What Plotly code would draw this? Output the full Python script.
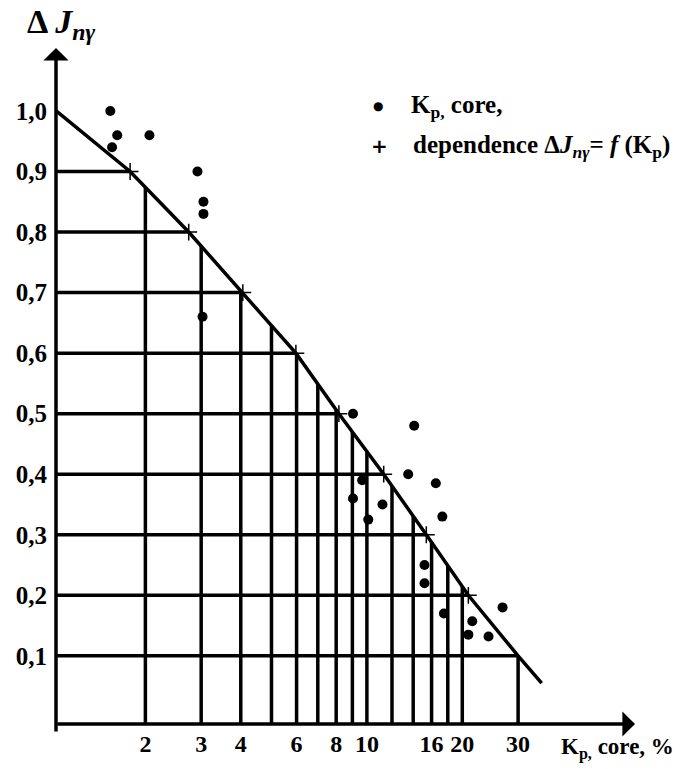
import numpy as np
import plotly.graph_objects as go

# ---- data ----
# measured points (K_p core, %; ΔJ_nγ)
kp_core = [1.55, 1.63, 1.57, 2.06, 2.92, 3.05, 3.05, 3.03,
           9.04, 14.1, 13.5, 16.5, 17.3, 9.66, 9.04, 11.2, 10.1,
           15.2, 15.2, 17.5, 21.5, 20.9, 24.2, 26.8]
dj_core = [1.00, 0.96, 0.94, 0.96, 0.90, 0.85, 0.83, 0.66,
           0.50, 0.48, 0.40, 0.385, 0.33, 0.39, 0.36, 0.35, 0.325,
           0.25, 0.22, 0.17, 0.157, 0.135, 0.132, 0.18]

# dependence curve ΔJ_nγ = f(K_p)
kp_curve = [1.046, 1.79, 2.74, 4.06, 5.97, 8.16, 11.3, 15.4, 20.9, 30.0, 35.6]
dj_curve = [1.00, 0.90, 0.80, 0.70, 0.60, 0.50, 0.40, 0.30, 0.20, 0.10, 0.055]

# "+" marks on the dependence
kp_plus = [1.79, 2.74, 4.06, 5.97, 8.16, 11.3, 15.4, 20.9]
dj_plus = [0.90, 0.80, 0.70, 0.60, 0.50, 0.40, 0.30, 0.20]

# grid under the curve
grid_x = [2, 3, 4, 5, 6, 7, 8, 9, 10, 12, 14, 16, 18, 20, 30]
grid_y = [0.1, 0.2, 0.3, 0.4, 0.5, 0.6, 0.7, 0.8, 0.9]

x_ticks = [2, 3, 4, 6, 8, 10, 16, 20, 30]
y_ticks = [0.1, 0.2, 0.3, 0.4, 0.5, 0.6, 0.7, 0.8, 0.9, 1.0]

X_RANGE = [0.019, 1.846]      # log10 units
Y_RANGE = [-0.0126, 1.104]

FONT = "Liberation Serif"
LW = 3.5

lc = np.log10(kp_curve)
dc = np.array(dj_curve)

def curve_at(x):
    return float(np.interp(np.log10(x), lc, dc))

def curve_inv(y):
    return float(10 ** np.interp(y, dc[::-1], lc[::-1]))

x0 = 10 ** X_RANGE[0]
y0 = Y_RANGE[0]

vx, vy = [], []
for gx in grid_x:
    vx += [gx, gx, None]
    vy += [y0, curve_at(gx), None]
hx, hy = [], []
for gy in grid_y:
    hx += [x0, curve_inv(gy), None]
    hy += [gy, gy, None]

fig = go.Figure()
fig.add_trace(go.Scatter(x=vx, y=vy, mode="lines",
                         line=dict(color="black", width=LW), hoverinfo="skip"))
fig.add_trace(go.Scatter(x=hx, y=hy, mode="lines",
                         line=dict(color="black", width=LW), hoverinfo="skip"))
fig.add_trace(go.Scatter(x=kp_curve, y=dj_curve, mode="lines",
                         line=dict(color="black", width=LW)))
fig.add_trace(go.Scatter(x=kp_plus, y=dj_plus, mode="markers",
                         marker=dict(symbol="cross-thin", size=12,
                                     line=dict(color="black", width=1.5))))
fig.add_trace(go.Scatter(x=kp_core, y=dj_core, mode="markers",
                         marker=dict(symbol="circle", size=10, color="black")))

W, H = 680, 769
ML, MR, MT, MB = 56, 45, 48, 36
PW, PH = W - ML - MR, H - MT - MB

def px(x):
    return (x - ML) / PW

def py(y):
    return (H - MB - y) / PH

annotations = [
    # axes with arrows
    dict(x=1, y=0, xref="paper", yref="paper", ax=-PW, ay=0, text="",
         showarrow=True, arrowhead=1, arrowsize=1.2, arrowwidth=LW,
         arrowcolor="black", standoff=0),
    dict(x=0, y=1, xref="paper", yref="paper", ax=0, ay=PH, text="",
         showarrow=True, arrowhead=1, arrowsize=1.2, arrowwidth=LW,
         arrowcolor="black", standoff=0),
    # y title
    dict(x=px(25), y=py(24), xref="paper", yref="paper", xanchor="left",
         yanchor="middle", showarrow=False,
         text="Δ\u2009<b><i>J</i></b><sub><i>nγ</i></sub>",
         font=dict(family=FONT, size=34, color="black", weight="bold")),
    # x title
    dict(x=px(559), y=py(758), xref="paper", yref="paper", xanchor="left",
         yanchor="middle", showarrow=False,
         text="K<sub>p,</sub> core, %",
         font=dict(family=FONT, size=23, color="black", weight="bold")),
    # legend
    dict(x=px(378), y=py(107), xref="paper", yref="paper", xanchor="center",
         yanchor="middle", showarrow=False, text="●",
         font=dict(family="DejaVu Sans", size=12, color="black")),
    dict(x=px(409), y=py(107), xref="paper", yref="paper", xanchor="left",
         yanchor="middle", showarrow=False, text="K<sub>p,</sub> core,",
         font=dict(family=FONT, size=25, color="black", weight="bold")),
    dict(x=px(379), y=py(147), xref="paper", yref="paper", xanchor="center",
         yanchor="middle", showarrow=False, text="+",
         font=dict(family="DejaVu Sans", size=20, color="black", weight="bold")),
    dict(x=px(411), y=py(148), xref="paper", yref="paper", xanchor="left",
         yanchor="middle", showarrow=False,
         text="dependence Δ<i>J</i><sub><i>nγ</i></sub>= <i>f</i> (K<sub>p</sub>)",
         font=dict(family=FONT, size=25, color="black", weight="bold")),
]

fig.update_layout(
    width=W, height=H,
    margin=dict(l=ML, r=MR, t=MT, b=MB, pad=0),
    paper_bgcolor="white", plot_bgcolor="white",
    showlegend=False,
    separators=", ",
    annotations=annotations,
    xaxis=dict(type="log", range=X_RANGE, showgrid=False, zeroline=False,
               showline=False, tickvals=x_ticks,
               ticktext=[str(v) for v in x_ticks], ticks="",
               ticklabelstandoff=3,
               tickfont=dict(family=FONT, size=24, color="black", weight="bold")),
    yaxis=dict(range=Y_RANGE, showgrid=False, zeroline=False, showline=False,
               tickvals=y_ticks, tickformat=".1f", ticks="",
               ticklabelstandoff=8,
               tickfont=dict(family=FONT, size=25, color="black", weight="bold")),
)

fig.write_html("out.html")
